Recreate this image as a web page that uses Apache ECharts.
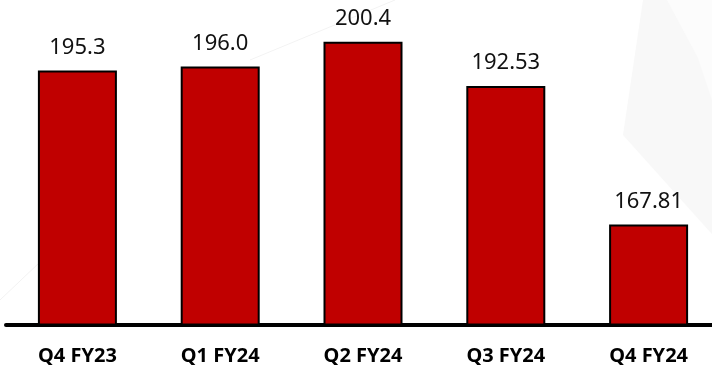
<!DOCTYPE html>
<html>
<head>
<meta charset="utf-8">
<script src="https://cdn.jsdelivr.net/npm/echarts@6/dist/echarts.min.js"></script>
<style>html,body{margin:0;padding:0;background:#fff;overflow:hidden;width:712px;height:368px}#c{width:720px;height:368px}</style>
</head>
<body>
<div id="c"></div>
<script>
const categories = ['Q4 FY23', 'Q1 FY24', 'Q2 FY24', 'Q3 FY24', 'Q4 FY24'];
const values = [195.3, 196.0, 200.4, 192.53, 167.81];
const valueLabels = ['195.3', '196.0', '200.4', '192.53', '167.81'];

const chart = echarts.init(document.getElementById('c'), null, {renderer: 'canvas'});
chart.setOption({
  backgroundColor: '#ffffff',
  animation: false,
  graphic: [
    {type: 'polygon', z: -10, silent: true,
     shape: {points: [[643,0],[720,0],[720,243],[623,135]]},
     style: {fill: '#f8f8f8'}},
    {type: 'polygon', z: -9, silent: true,
     shape: {points: [[667,0],[712,0],[712,100],[698,58]]},
     style: {fill: '#fcfcfc'}},
    {type: 'line', z: -9, silent: true,
     shape: {x1: 0, y1: 300, x2: 40, y2: 262},
     style: {stroke: '#f2f2f2', lineWidth: 1}},
    {type: 'line', z: -9, silent: true,
     shape: {x1: 395, y1: 0, x2: 250, y2: 60},
     style: {stroke: '#f3f3f3', lineWidth: 1}}
  ],
  grid: {left: 6, right: 0, top: 16, bottom: 43.5, containLabel: false},
  xAxis: {
    type: 'category',
    data: categories,
    axisLine: {show: true, lineStyle: {color: '#000', width: 4}},
    axisTick: {show: false},
    axisLabel: {
      color: '#000', fontSize: 20, fontWeight: 'bold',
      fontFamily: '"Noto Sans", "Open Sans", sans-serif',
      margin: 22
    }
  },
  yAxis: {
    type: 'value', min: 150, max: 205,
    show: false, splitLine: {show: false}
  },
  series: [{
    type: 'bar',
    data: values,
    barWidth: 79,
    itemStyle: {color: '#C00000', borderColor: '#000', borderWidth: 2},
    label: {
      show: true, position: 'top', distance: 12,
      color: '#111', fontSize: 22,
      fontFamily: '"Noto Sans", "Open Sans", sans-serif',
      formatter: p => valueLabels[p.dataIndex]
    }
  }]
});
</script>
</body>
</html>
